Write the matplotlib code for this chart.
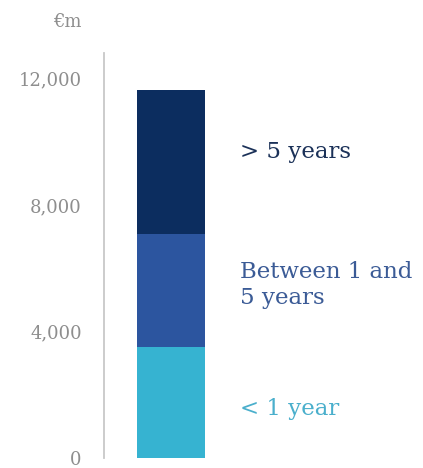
import matplotlib.pyplot as plt
import numpy as np

# maturity profile, EUR m
categories = ["< 1 year", "Between 1 and\n5 years", "> 5 years"]
values = [3520, 3560, 4570]
colors = ["#36b3d1", "#2c559f", "#0c2d5f"]
text_colors = ["#4aafcc", "#3b5b96", "#1b3158"]
yticks = [0, 4000, 8000, 12000]
ytick_labels = ["0", "4,000", "8,000", "12,000"]

plt.rcParams['font.family'] = ['DejaVu Serif']

fig = plt.figure(figsize=(4.23, 4.68), dpi=100)
ax = fig.add_axes([104 / 423, 10 / 468, 319 / 423, 405 / 468])

bottom = 0
label_y = [1550, 5470, 9680]
for v, c, tc, lab, ly in zip(values, colors, text_colors, categories, label_y):
    ax.bar(0.985, v, width=1.0, bottom=bottom, color=c, linewidth=0)
    ax.text(2.0, ly, lab, color=tc, fontsize=16.5, va='center', ha='left',
            linespacing=1.2)
    bottom += v

ax.set_xlim(0, 319 / 68)
ax.set_ylim(0, 12810)
ax.set_yticks(yticks)
ax.set_yticklabels(ytick_labels)
ax.tick_params(axis='y', length=0, pad=16, labelsize=13, labelcolor='#8e8e8e')
ax.set_xticks([])
for s in ['top', 'right', 'bottom']:
    ax.spines[s].set_visible(False)
ax.spines['left'].set_color('#c8c8c8')
ax.spines['left'].set_linewidth(1.3)

fig.text(82 / 423, 1 - 22 / 468, "€m", ha='right', va='center',
         fontsize=13, color='#8e8e8e')

fig.savefig("out.png", dpi=100)
